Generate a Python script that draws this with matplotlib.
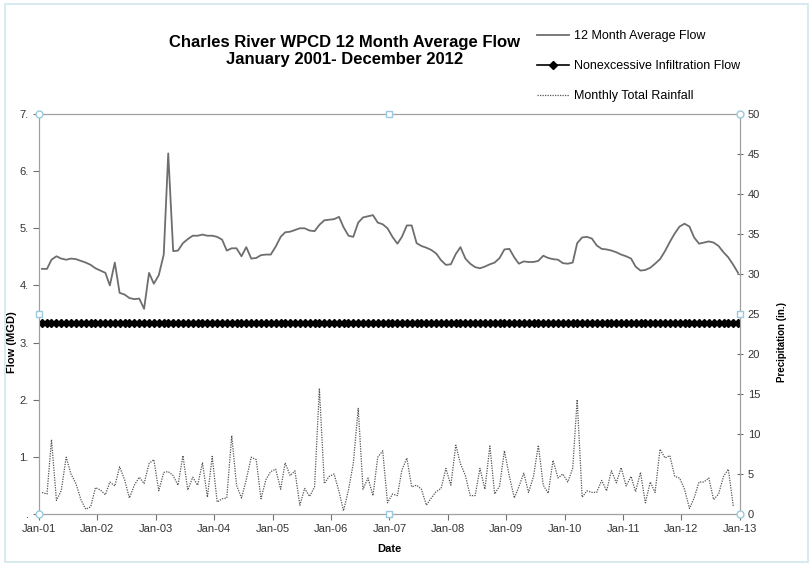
import matplotlib.pyplot as plt
import matplotlib.dates as mdates
from matplotlib.patches import Rectangle
import pandas as pd

plt.rcParams['font.family'] = ['Liberation Sans', 'DejaVu Sans']

# monthly values, Jan 2001 - Dec 2012
flow = [4.29, 4.29, 4.45, 4.51, 4.47, 4.45, 4.47, 4.46, 4.43, 4.40, 4.36, 4.30,
        4.26, 4.22, 4.00, 4.40, 3.87, 3.84, 3.78, 3.76, 3.77, 3.59, 4.22, 4.03,
        4.18, 4.54, 6.31, 4.60, 4.61, 4.74, 4.81, 4.87, 4.87, 4.89, 4.87, 4.87,
        4.85, 4.80, 4.61, 4.65, 4.65, 4.51, 4.67, 4.47, 4.48, 4.53, 4.54, 4.54,
        4.68, 4.85, 4.93, 4.94, 4.97, 5.00, 5.00, 4.96, 4.95, 5.06, 5.14, 5.15,
        5.16, 5.20, 5.02, 4.87, 4.85, 5.10, 5.19, 5.21, 5.23, 5.10, 5.07, 5.00,
        4.85, 4.73, 4.85, 5.05, 5.05, 4.74, 4.69, 4.66, 4.62, 4.56, 4.44, 4.36,
        4.37, 4.55, 4.67, 4.47, 4.38, 4.32, 4.30, 4.33, 4.37, 4.40, 4.48, 4.63,
        4.64, 4.49, 4.38, 4.42, 4.41, 4.41, 4.43, 4.52, 4.48, 4.46, 4.45, 4.39,
        4.38, 4.40, 4.74, 4.84, 4.85, 4.82, 4.70, 4.64, 4.63, 4.61, 4.58, 4.54,
        4.51, 4.47, 4.33, 4.26, 4.27, 4.31, 4.38, 4.46, 4.60, 4.76, 4.91, 5.03,
        5.08, 5.03, 4.84, 4.73, 4.75, 4.77, 4.75, 4.69, 4.58, 4.49, 4.36, 4.22]

rain = [2.7, 2.5, 9.3, 1.7, 2.9, 7.1, 5.0, 3.8, 1.8, 0.6, 0.9, 3.3,
        3.0, 2.4, 4.0, 3.5, 5.9, 4.3, 2.0, 3.6, 4.6, 3.8, 6.3, 6.8,
        2.9, 5.2, 5.3, 4.8, 3.6, 7.3, 3.0, 4.6, 3.6, 6.4, 2.1, 7.2,
        1.5, 1.9, 2.0, 9.8, 3.6, 2.0, 4.3, 7.1, 6.8, 1.9, 4.3, 5.3,
        5.6, 3.1, 6.4, 4.8, 5.4, 1.1, 3.2, 2.2, 3.4, 15.7, 3.8, 4.7,
        5.0, 2.8, 0.4, 3.0, 6.3, 13.2, 3.1, 4.5, 2.3, 7.1, 7.9, 1.4,
        2.5, 2.3, 5.5, 7.0, 3.4, 3.6, 3.1, 1.1, 2.0, 2.8, 3.2, 5.7,
        3.6, 8.6, 6.3, 4.8, 2.3, 2.3, 5.7, 3.1, 8.5, 2.5, 3.5, 7.9,
        4.7, 2.0, 3.4, 5.1, 2.7, 4.7, 8.6, 3.6, 2.6, 6.7, 4.5, 5.0,
        4.0, 5.7, 14.3, 2.1, 2.9, 2.7, 2.7, 4.2, 2.9, 5.4, 3.9, 5.8,
        3.5, 4.7, 2.8, 5.2, 1.4, 4.0, 2.7, 8.1, 7.0, 7.3, 4.7, 4.5,
        3.1, 0.7, 2.0, 4.0, 4.0, 4.5, 1.8, 2.5, 4.7, 5.6, 1.0]

infiltration = 3.35
dates = pd.date_range('2001-01-01', periods=len(flow), freq='MS') + pd.Timedelta(days=19)
flow_ticks = [0, 1, 2, 3, 4, 5, 6, 7]
flow_labels = ['.', '1.', '2.', '3.', '4.', '5.', '6.', '7.']
rain_ticks = [0, 5, 10, 15, 20, 25, 30, 35, 40, 45, 50]

fig = plt.figure(figsize=(8.12, 5.66), dpi=100)
ax = fig.add_axes([39 / 812, 52 / 566, 701 / 812, 400 / 566])
ax2 = ax.twinx()

l1, = ax.plot(dates, flow, color='#6e6e6e', lw=1.3, label='12 Month Average Flow')
l2, = ax.plot(dates, [infiltration] * len(dates), color='black', lw=1.2,
              marker='D', ms=4.5, label='Nonexcessive Infiltration Flow')
l3, = ax2.plot(dates[:len(rain)], rain, color='#555555', lw=0.9, ls=(0, (1, 1)),
               label='Monthly Total Rainfall')

ax.set_xlim(pd.Timestamp('2001-01-01'), pd.Timestamp('2013-01-01'))
ax.set_ylim(0, 7)
ax2.set_ylim(0, 50)
ax.set_yticks(flow_ticks)
ax.set_yticklabels(flow_labels)
ax2.set_yticks(rain_ticks)
ax.xaxis.set_major_locator(mdates.YearLocator())
ax.xaxis.set_major_formatter(mdates.DateFormatter('%b-%y'))

for a in (ax, ax2):
    for s in a.spines.values():
        s.set_color('#a0a0a0')
ax.tick_params(axis='both', labelsize=8, color='#707070', length=4, labelcolor='#333333')
ax2.tick_params(axis='y', labelsize=8, color='#707070', length=4, direction='inout',
                labelcolor='#333333')

ax.set_xlabel('Date', fontsize=8, fontweight='bold', labelpad=7)
ax.set_ylabel('Flow (MGD)', fontsize=8, fontweight='bold')
ax.yaxis.set_label_coords(-22 / 701, 0.43)
ax2.set_ylabel('Precipitation (in.)', fontsize=7, fontweight='bold')
ax2.yaxis.set_label_coords(738 / 701, 0.43)

fig.text(345 / 812, 1 - 51 / 566, 'Charles River WPCD 12 Month Average Flow\nJanuary 2001- December 2012',
         ha='center', va='center', fontsize=12, fontweight='bold', linespacing=1.1)

fig.legend(handles=[l1, l2, l3], loc='upper left', bbox_to_anchor=(537 / 812, 1 - 30 / 566),
           frameon=False, fontsize=9, handlelength=2.6, handletextpad=0.35,
           labelspacing=1.45, borderaxespad=0, borderpad=0)

# chart selection handles
hx = [0, 0.5, 1, 0, 1, 0, 0.5, 1]
hy = [1, 1, 1, 0.5, 0.5, 0, 0, 0]
hm = ['o', 's', 'o', 's', 's', 'o', 's', 'o']
for x, y, m in zip(hx, hy, hm):
    ax2.plot(x, y, marker=m, ms=5 if m == 'o' else 4, mfc='white', mec='#9cc9dc',
             mew=1, transform=ax2.transAxes, clip_on=False, zorder=10)

fig.patches.append(Rectangle((5 / 812, 4 / 566), 803 / 812, 558 / 566, fill=False,
                             edgecolor='#cfe6ee', lw=1.2, transform=fig.transFigure))

fig.savefig('out.png', dpi=100)
